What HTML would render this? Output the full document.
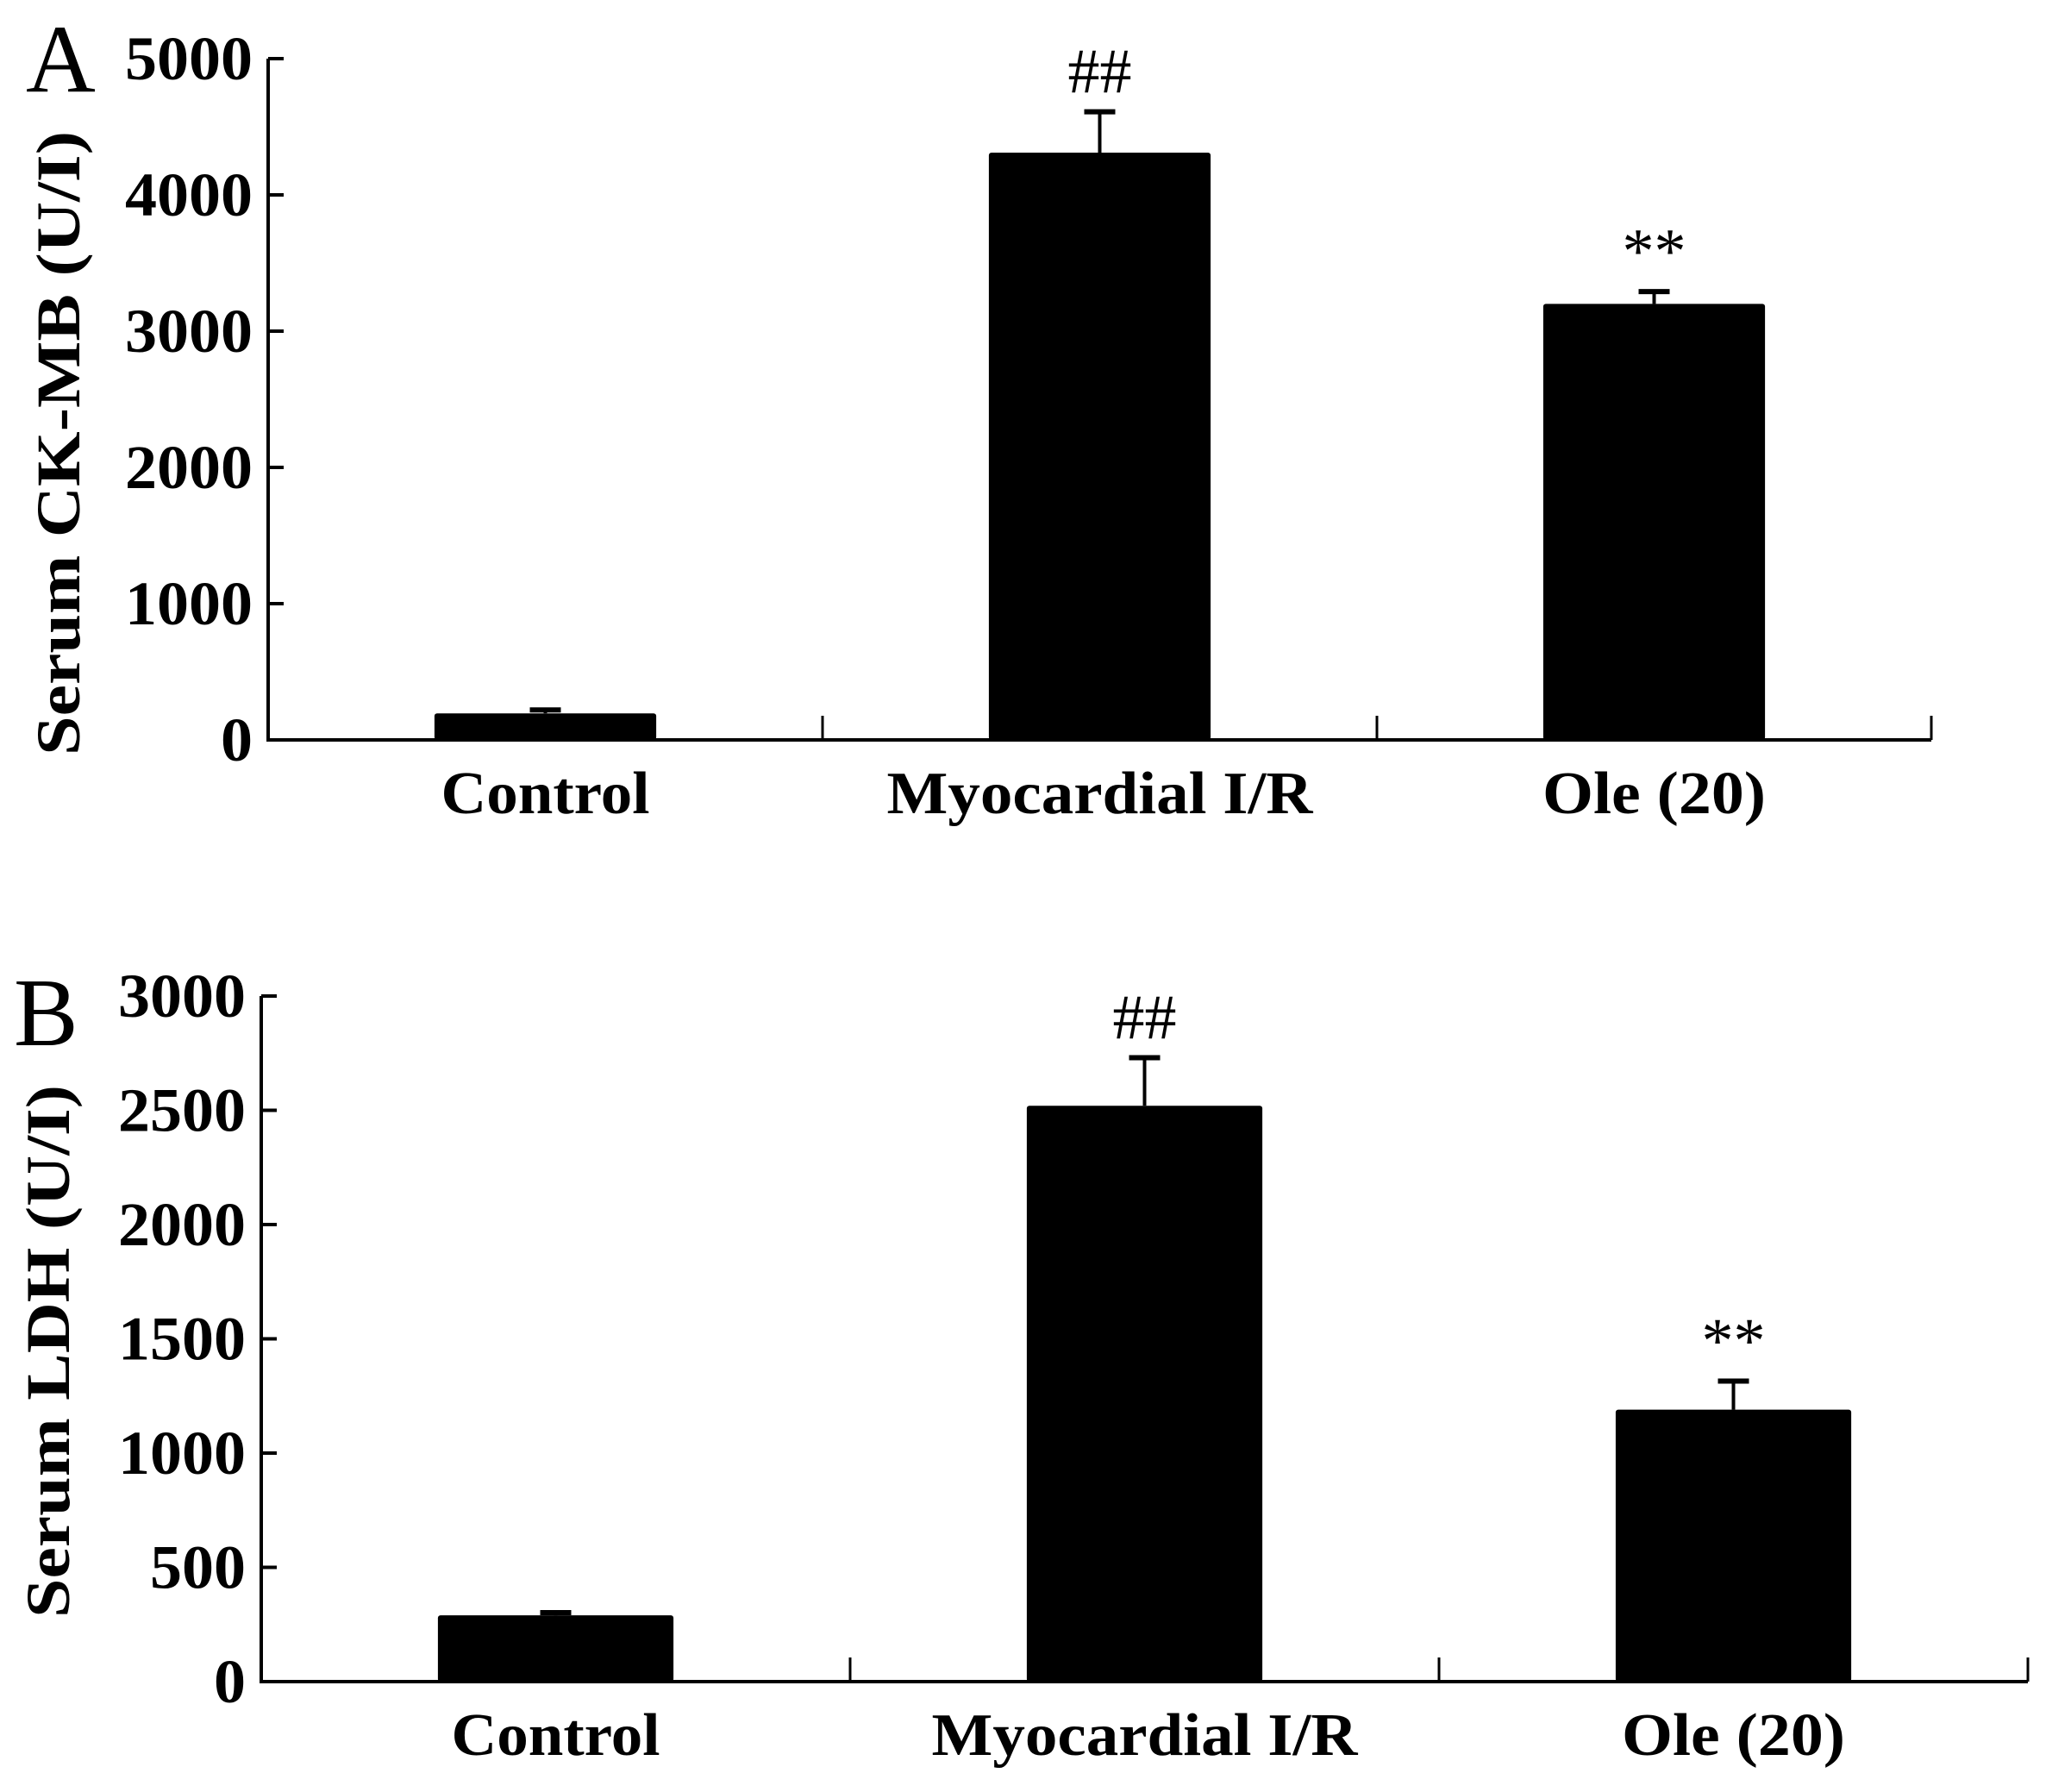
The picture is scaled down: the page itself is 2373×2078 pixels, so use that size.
<!DOCTYPE html>
<html><head><meta charset="utf-8"><style>
html,body{margin:0;padding:0;background:#fff;}
svg{display:block;}
text{font-family:"Liberation Serif",serif;fill:#000;}
</style></head><body>
<svg id="fig" width="2373" height="2078" viewBox="0 0 2373 2078"></svg>
<script>
const categories = ["Control", "Myocardial I/R", "Ole (20)"];
const ckValues = [195, 4310, 3200];
const ckErrors = [25, 300, 90];
const ckTicks = [0, 1000, 2000, 3000, 4000, 5000];
const ckMarks = ["", "##", "**"];
const ldhValues = [290, 2520, 1190];
const ldhErrors = [12, 210, 125];
const ldhTicks = [0, 500, 1000, 1500, 2000, 2500, 3000];
const ldhMarks = ["", "##", "**"];
const labelWidths = [242, 494, 259];

const NS = "http://www.w3.org/2000/svg";
const svg = document.getElementById("fig");
function mk(tag, attrs, parent) {
  const e = document.createElementNS(NS, tag);
  for (const k in attrs) e.setAttribute(k, attrs[k]);
  (parent || svg).appendChild(e);
  return e;
}

function panel(cfg) {
  const g = mk("g", {});
  
  
  const yMax = cfg.ticks[cfg.ticks.length - 1];
  const y = v => cfg.y0 - (v / yMax) * (cfg.y0 - cfg.yTop);
  const n = categories.length;
  const slot = (cfg.xEnd - cfg.x0) / n;
  const xc = i => cfg.x0 + slot * (i + 0.5);

  const lbl = mk("text", {x: cfg.letterX, y: cfg.letterY, "font-size": 112}, g);
  lbl.textContent = cfg.letter;
  
  

  const ya = mk("line", {x1: cfg.x0, y1: cfg.yTop, x2: cfg.x0, y2: cfg.y0 + 2, stroke: "#000", "stroke-width": 4}, g);
  
  
  const xa = mk("line", {x1: cfg.x0 - 2, y1: cfg.y0, x2: cfg.xEnd, y2: cfg.y0, stroke: "#000", "stroke-width": 4}, g);
  
  

  cfg.ticks.forEach(t => {
    const tl = mk("line", {x1: cfg.x0, y1: y(t), x2: cfg.x0 + 18, y2: y(t), stroke: "#000", "stroke-width": 4}, g);
    
    
    const s = String(t);
    const tx = mk("text", {x: cfg.x0 - 18, y: y(t) + 24, "font-size": 72, "font-weight": "bold", "text-anchor": "end",
      textLength: 37 * s.length, lengthAdjust: "spacingAndGlyphs"}, g);
    tx.textContent = s;
    
    
  });
  for (let i = 1; i <= n; i++) {
    const xx = cfg.x0 + slot * i;
    const ct = mk("line", {x1: xx, y1: cfg.y0, x2: xx, y2: cfg.y0 - 28, stroke: "#000", "stroke-width": 3}, g);
    
    
  }

  const bw = slot * cfg.barFrac;
  categories.forEach((c, i) => {
    const v = cfg.values[i], e = cfg.errors[i];
    const b = mk("rect", {x: xc(i) - bw / 2, y: y(v), width: bw, height: cfg.y0 - y(v), fill: "#000", rx: 3}, g);
    
    
    const el = mk("line", {x1: xc(i), y1: y(v), x2: xc(i), y2: y(v + e), stroke: "#000", "stroke-width": 4}, g);
    
    
    const ec = mk("line", {x1: xc(i) - 18, y1: y(v + e), x2: xc(i) + 18, y2: y(v + e), stroke: "#000", "stroke-width": 6}, g);
    
    
    if (cfg.marks[i]) {
      const m = mk("text", {x: xc(i), y: y(v + e) - 22, "font-size": 74, "text-anchor": "middle"}, g);
      m.textContent = cfg.marks[i];
      
      
    }
    const xl = mk("text", {x: xc(i), y: cfg.y0 + 85, "font-size": 70, "font-weight": "bold", "text-anchor": "middle",
      textLength: labelWidths[i], lengthAdjust: "spacingAndGlyphs"}, g);
    xl.textContent = c;
    
    
  });

  const tt = mk("text", {x: 0, y: 0, "font-size": 72, "font-weight": "bold", "text-anchor": "middle",
    transform: `translate(${cfg.titleX},${cfg.titleY}) rotate(-90)`, textLength: cfg.titleLen, lengthAdjust: "spacingAndGlyphs"}, g);
  tt.textContent = cfg.title;
  
  
}

panel({name: "panel-a-ck-mb", letter: "A", letterX: 30, letterY: 106, x0: 311, xEnd: 2240, y0: 858, yTop: 68,
  ticks: ckTicks, values: ckValues, errors: ckErrors, marks: ckMarks, barFrac: 0.40,
  title: "Serum CK-MB (U/I)", titleX: 92, titleY: 514, titleLen: 724});
panel({name: "panel-b-ldh", letter: "B", letterX: 16, letterY: 1212, x0: 303, xEnd: 2352, y0: 1950, yTop: 1155,
  ticks: ldhTicks, values: ldhValues, errors: ldhErrors, marks: ldhMarks, barFrac: 0.40,
  title: "Serum LDH (U/I)", titleX: 80, titleY: 1567, titleLen: 618});
</script>
</body></html>
